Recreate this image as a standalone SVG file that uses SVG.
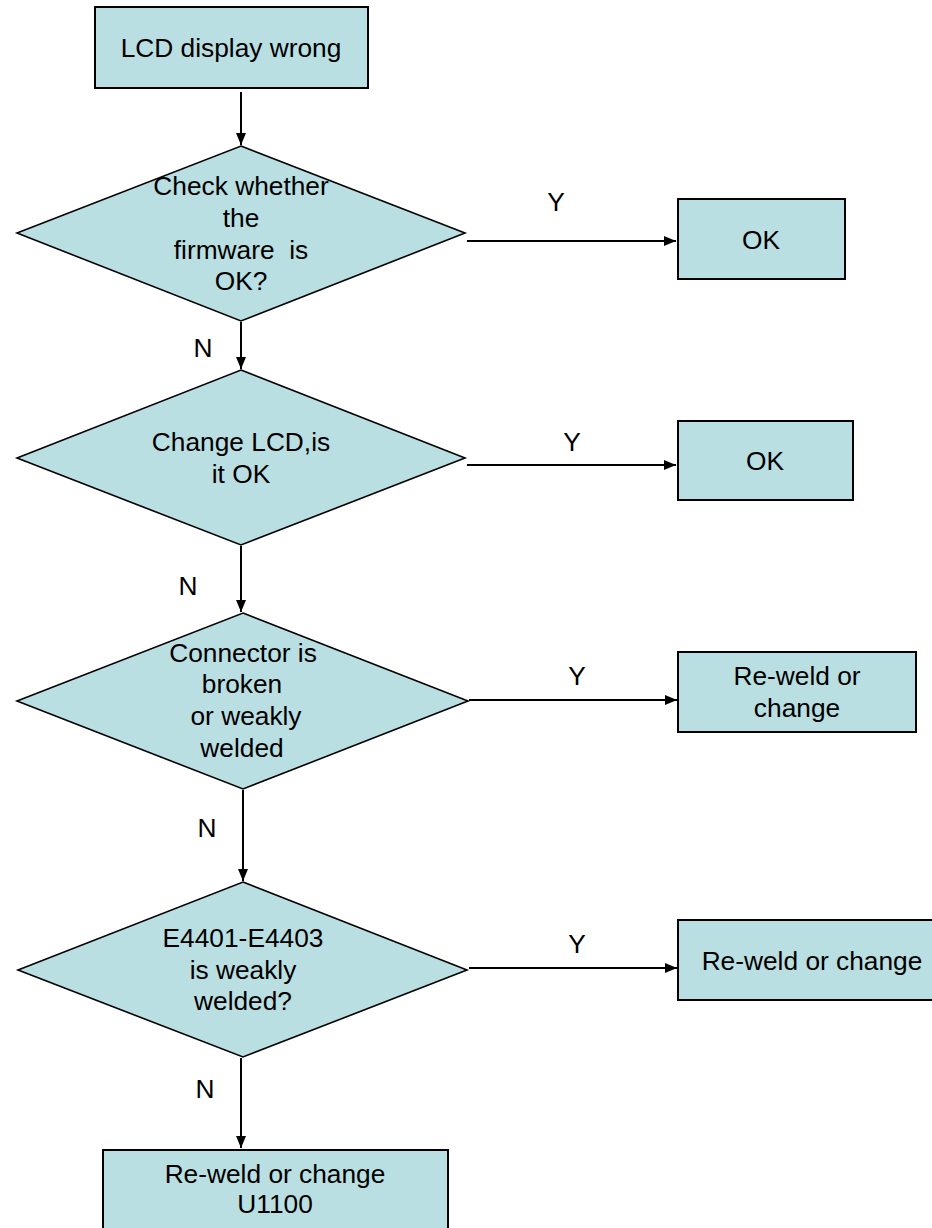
<svg xmlns="http://www.w3.org/2000/svg" width="932" height="1228" viewBox="0 0 932 1228">
<style>
.box{fill:#B9DFE2;stroke:#000;stroke-width:2}
.dia{fill:#B9DFE2;stroke:#000;stroke-width:1.6}
.t{font-family:"Liberation Sans",Arial,sans-serif;font-size:26.3px;fill:#000;text-anchor:middle;white-space:pre}
.c{stroke:#000;stroke-width:2;fill:none}
</style>
<defs>
<marker id="ah" markerUnits="userSpaceOnUse" markerWidth="14" markerHeight="12" refX="12" refY="5" orient="auto">
<path d="M0,0 L12,5 L0,10 Z" fill="#000"/>
</marker>
</defs>
<rect width="932" height="1228" fill="#fff"/>
<g id="connectors">
<line class="c" x1="241" y1="92" x2="241" y2="145" marker-end="url(#ah)"/>
<line class="c" x1="241" y1="322" x2="241" y2="369" marker-end="url(#ah)"/>
<line class="c" x1="241" y1="546" x2="241" y2="612" marker-end="url(#ah)"/>
<line class="c" x1="243" y1="790" x2="243" y2="881" marker-end="url(#ah)"/>
<line class="c" x1="241" y1="1058" x2="241" y2="1148" marker-end="url(#ah)"/>
<line class="c" x1="467" y1="241" x2="676" y2="241" marker-end="url(#ah)"/>
<line class="c" x1="467" y1="465" x2="676" y2="465" marker-end="url(#ah)"/>
<line class="c" x1="469" y1="700" x2="677" y2="700" marker-end="url(#ah)"/>
<line class="c" x1="469" y1="968" x2="677" y2="968" marker-end="url(#ah)"/>
<text class="t" x="203" y="357">N</text>
<text class="t" x="188" y="595">N</text>
<text class="t" x="207" y="837">N</text>
<text class="t" x="205" y="1098">N</text>
<text class="t" x="556" y="211">Y</text>
<text class="t" x="572" y="451">Y</text>
<text class="t" x="577" y="685">Y</text>
<text class="t" x="577" y="953">Y</text>
</g>
<g id="start">
<rect class="box" x="95" y="7" width="273" height="81"/>
<text class="t" x="231" y="57">LCD display wrong</text>
</g>
<g id="d1">
<polygon class="dia" points="241,146 465,233 241,321 17,233"/>
<text class="t" x="241" y="195">Check whether</text>
<text class="t" x="241" y="227">the</text>
<text class="t" x="241" y="259" xml:space="preserve">firmware  is</text>
<text class="t" x="241" y="290">OK?</text>
</g>
<g id="ok1">
<rect class="box" x="678" y="199" width="167" height="80"/>
<text class="t" x="761" y="249">OK</text>
</g>
<g id="d2">
<polygon class="dia" points="241,370 465,458 241,545 17,458"/>
<text class="t" x="241" y="451">Change LCD,is</text>
<text class="t" x="241" y="483">it OK</text>
</g>
<g id="ok2">
<rect class="box" x="678" y="421" width="175" height="79"/>
<text class="t" x="765" y="470">OK</text>
</g>
<g id="d3">
<polygon class="dia" points="243,613 468,701 243,789 17,701"/>
<text class="t" x="243" y="662">Connector is</text>
<text class="t" x="242" y="693">broken</text>
<text class="t" x="246" y="725">or weakly</text>
<text class="t" x="242" y="757">welded</text>
</g>
<g id="rw1">
<rect class="box" x="678" y="652" width="238" height="80"/>
<text class="t" x="797" y="685">Re-weld or</text>
<text class="t" x="797" y="717">change</text>
</g>
<g id="d4">
<polygon class="dia" points="243,882 467,970 243,1057 18,970"/>
<text class="t" x="243" y="947">E4401-E4403</text>
<text class="t" x="243" y="979">is weakly</text>
<text class="t" x="243" y="1010">welded?</text>
</g>
<g id="rw2">
<rect class="box" x="678" y="920" width="268" height="80"/>
<text class="t" x="812" y="970">Re-weld or change</text>
</g>
<g id="end">
<rect class="box" x="103" y="1150" width="345" height="90"/>
<text class="t" x="275" y="1183">Re-weld or change</text>
<text class="t" x="275" y="1213">U1100</text>
</g>
</svg>
